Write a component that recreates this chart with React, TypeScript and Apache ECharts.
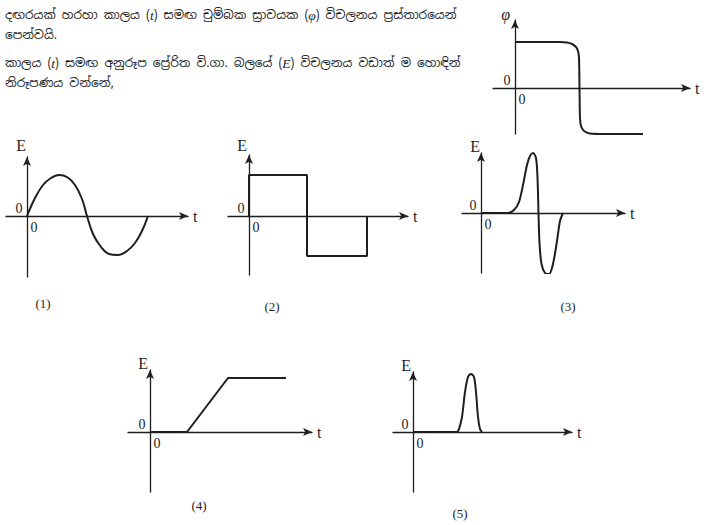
import React, { useEffect, useRef } from 'react';
import * as echarts from 'echarts';

// ---- text ----
const questionLines = [
  '{s|දඟරයක් හරහා කාලය (}{i|t}{s|) සමඟ චුම්බක ස්‍රාවයක (}{i|φ}{s|) විචලනය ප්‍රස්තාරයෙන්}',
  '{s|පෙන්වයි.}',
  '{s|කාලය (}{i|t}{s|) සමඟ අනුරූප ප්‍රේරිත වි.ගා. බලයේ (}{i|E}{s|) විචලනය වඩාත් ම හොඳින්}',
  '{s|නිරූපණය වන්නේ,}',
];
const optionLabels = ['(1)', '(2)', '(3)', '(4)', '(5)'];
const zeroLabel = '0';
const timeName = 't';

// ---- data (relative units, origin at 0) ----
const fluxT = [0, 45, 52, 57, 61, 63, 64, 64.5, 65, 66, 69, 75, 90, 128];
const fluxV = [46, 46, 45.5, 44, 41, 37, 30, 0, -30, -38, -43, -45.5, -46, -46];

const sineT = [0, 8, 16, 24, 32, 40, 48, 55, 60, 66, 74, 82, 91, 100, 108, 115, 121];
const sineV = [0, 18, 31, 38, 41, 39, 31, 17, 0, -18, -31, -38, -39, -35, -27, -15, 0];

const squareT = [0, 0, 58, 58, 118, 118];
const squareV = [0, 41, 41, -40, -40, 0];

const spikeT = [0, 27, 33, 38, 42, 46, 49, 52, 55, 56.5, 57.5, 58.5, 60.5, 64, 68, 72, 76, 79, 82];
const spikeV = [0, 0, 3, 11, 28, 48, 57, 60, 55, 35, 0, -30, -51, -60, -61, -51, -28, -8, 0];

const rampT = [0, 37, 78, 136];
const rampV = [0, 0, 54, 54];

const pulseT = [0, 44, 46, 49, 52, 55, 58, 61, 63, 65, 67, 69];
const pulseV = [0, 0, 3, 15, 40, 55, 58, 55, 40, 15, 3, 0];

type Panel = {
  box: [number, number, number, number];
  origin: [number, number];
  yName: string;
  nameGap: number;
  nameShift: number;
  t: number[];
  v: number[];
  smooth: number | boolean;
  italic?: boolean;
};

const panels: Panel[] = [
  { box: [493, 20, 690, 134], origin: [515, 88], yName: 'φ', nameGap: -2, nameShift: 5, t: fluxT, v: fluxV, smooth: 0.3, italic: true },
  { box: [6, 157, 188, 277], origin: [27, 216], yName: 'E', nameGap: 4, nameShift: 1, t: sineT, v: sineV, smooth: 0.4 },
  { box: [228, 155, 408, 275], origin: [249, 216], yName: 'E', nameGap: 2, nameShift: 2, t: squareT, v: squareV, smooth: false },
  { box: [462, 153, 625, 273], origin: [481, 213], yName: 'E', nameGap: -1, nameShift: 1, t: spikeT, v: spikeV, smooth: 0.3 },
  { box: [128, 370, 312, 492], origin: [150, 432], yName: 'E', nameGap: -1, nameShift: 2, t: rampT, v: rampV, smooth: false },
  { box: [393, 372, 572, 492], origin: [413, 432], yName: 'E', nameGap: -1, nameShift: 2, t: pulseT, v: pulseV, smooth: 0.3 },
];

const labelPos: [number, number][] = [
  [43, 303], [272, 306], [568, 306], [199, 505], [460, 513],
];

const INK = '#1e1e1e';
const SERIF = '"Liberation Serif", "DejaVu Serif", serif';
const SINHALA = '"Noto Sans Sinhala", "Iskoola Pota", "Noto Sans", sans-serif';

function buildOption() {
  const grid: any[] = [];
  const xAxis: any[] = [];
  const yAxis: any[] = [];
  const series: any[] = [];
  const graphic: any[] = [];
  panels.forEach((p, i) => {
    const [l, t, r, b] = p.box;
    const [ox, oy] = p.origin;
    const xmin = l - ox;
    const xmax = r - ox;
    const ymax = oy - t;
    const ymin = oy - b;
    grid.push({ left: l, top: t, width: r - l, height: b - t, containLabel: false, outerBoundsMode: 'none' });
    xAxis.push({
      type: 'value',
      gridIndex: i,
      min: xmin,
      max: xmax,
      name: timeName,
      nameLocation: 'end',
      nameGap: 5,
      nameTextStyle: { fontFamily: SERIF, fontSize: 16, color: INK, verticalAlign: 'middle' },
      axisLine: { show: true, onZero: true, symbol: ['none', 'arrow'], symbolSize: [6, 9], lineStyle: { color: INK, width: 1.3 } },
      axisTick: { show: false },
      splitLine: { show: false },
      axisLabel: { show: false },
    });
    yAxis.push({
      type: 'value',
      gridIndex: i,
      min: ymin,
      max: ymax,
      name: p.yName,
      nameLocation: 'end',
      nameGap: p.nameGap,
      nameTextStyle: {
        fontFamily: SERIF,
        fontSize: 16,
        color: INK,
        align: 'right',
        fontStyle: p.italic ? 'italic' : 'normal',
        padding: [0, p.nameShift, 0, 0],
      },
      axisLine: { show: true, onZero: true, symbol: ['none', 'arrow'], symbolSize: [6, 9], lineStyle: { color: INK, width: 1.3 } },
      axisTick: { show: false },
      splitLine: { show: false },
      axisLabel: { show: false },
    });
    series.push({
      type: 'line',
      xAxisIndex: i,
      yAxisIndex: i,
      data: p.t.map((tv, k) => [tv, p.v[k]]),
      smooth: p.smooth,
      showSymbol: false,
      symbol: 'none',
      lineStyle: { color: INK, width: 2 },
      silent: true,
      z: 3,
    });
    // "0" labels at the origin
    graphic.push({
      type: 'text',
      x: ox - 8,
      y: oy - 8,
      style: { text: zeroLabel, fontFamily: SERIF, fontSize: 14, fill: INK, textAlign: 'center', textVerticalAlign: 'middle' },
    });
    graphic.push({
      type: 'text',
      x: ox + 7,
      y: oy + 11,
      style: { text: zeroLabel, fontFamily: SERIF, fontSize: 14, fill: INK, textAlign: 'center', textVerticalAlign: 'middle' },
    });
  });

  const lineY = [15, 35, 63, 83];
  questionLines.forEach((txt, k) => {
    graphic.push({
      type: 'text',
      x: 5,
      y: lineY[k],
      style: {
        text: txt,
        textVerticalAlign: 'middle',
        rich: {
          s: { fontFamily: SINHALA, fontSize: 12.2, fill: INK },
          i: { fontFamily: SERIF, fontSize: 13.5, fontStyle: 'italic', fill: INK },
        },
      },
    });
  });
  optionLabels.forEach((lab, k) => {
    graphic.push({
      type: 'text',
      x: labelPos[k][0],
      y: labelPos[k][1],
      style: {
        text: lab,
        fontFamily: SERIF,
        fontSize: 13,
        fill: INK,
        textAlign: 'center',
        textVerticalAlign: 'middle',
      },
    });
  });

  return {
    animation: false,
    backgroundColor: '#ffffff',
    grid,
    xAxis,
    yAxis,
    series,
    graphic,
  };
}

export default function App() {
  const ref = useRef<HTMLDivElement>(null);
  useEffect(() => {
    if (!ref.current) return;
    const chart = echarts.init(ref.current, undefined, { renderer: 'svg' });
    chart.setOption(buildOption() as any);
    return () => chart.dispose();
  }, []);
  return (
    <div
      ref={ref}
      style={{ position: 'absolute', left: 0, top: 0, width: 713, height: 525, background: '#fff' }}
    />
  );
}
